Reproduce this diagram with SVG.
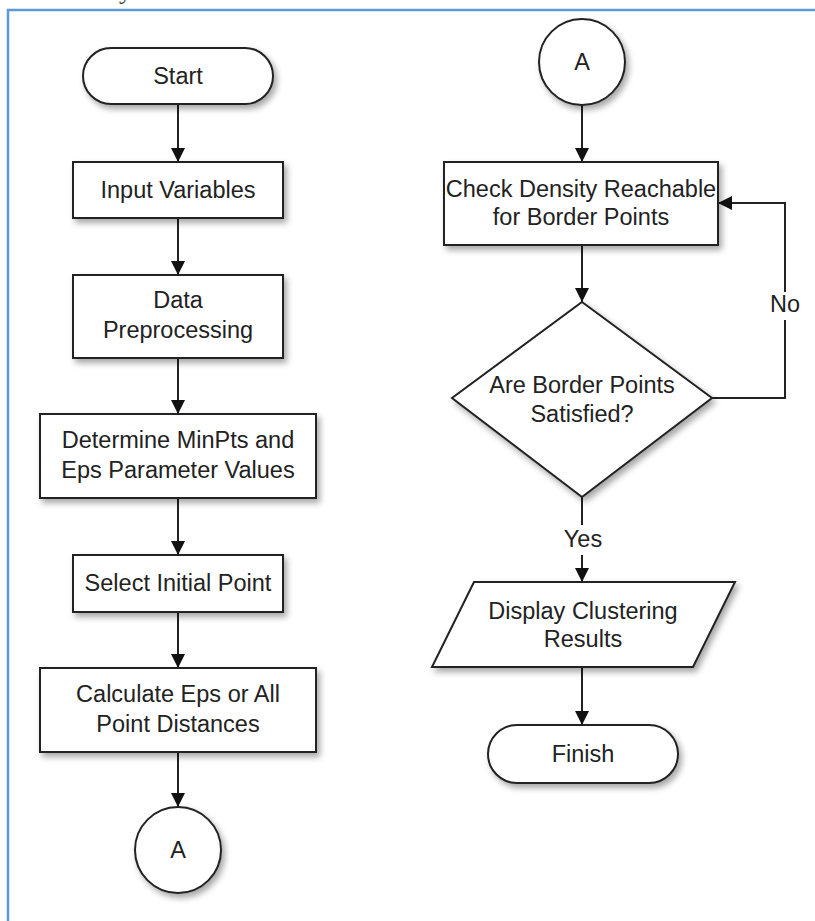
<svg xmlns="http://www.w3.org/2000/svg" width="815" height="921" viewBox="0 0 815 921">
<defs>
<style>
.shape{fill:#fff;stroke:#222;stroke-width:2;filter:url(#sh)}
.lbl{font-family:"Liberation Sans",Arial,sans-serif;font-size:23.5px;fill:#222;text-anchor:middle}
.edge{fill:none;stroke:#222;stroke-width:2}
.arr{marker-end:url(#ah)}
</style>
<filter id="sh" x="-20%" y="-20%" width="150%" height="150%">
<feDropShadow dx="3" dy="4" stdDeviation="3" flood-color="#000" flood-opacity="0.35"/>
</filter>
<marker id="ah" viewBox="0 0 14 14" refX="14" refY="7" markerWidth="14" markerHeight="14" markerUnits="userSpaceOnUse" orient="auto">
<path d="M0,0 L14,7 L0,14 z" fill="#111"/>
</marker>
</defs>
<rect width="815" height="921" fill="#fff"/>
<text x="10" y="-1" font-family="Liberation Serif,serif" font-size="26" fill="#444">based analytical data board</text>
<path d="M8,921 V10 H815" fill="none" stroke="#5b9bd5" stroke-width="2.5"/>

<g id="connectors">
<path class="edge arr" d="M178,104 V162"/>
<path class="edge arr" d="M178,218 V275"/>
<path class="edge arr" d="M178,358 V414"/>
<path class="edge arr" d="M178,498 V555"/>
<path class="edge arr" d="M178,612 V668"/>
<path class="edge arr" d="M178,752 V807"/>
<path class="edge arr" d="M582,105 V162"/>
<path class="edge arr" d="M582,245 V302"/>
<path class="edge" d="M712,398 H785 V320"/>
<path class="edge arr" d="M785,292 V203 H718"/>
<text class="lbl" x="785" y="312">No</text>
<path class="edge" d="M582,497 V525"/>
<text class="lbl" x="583" y="547">Yes</text>
<path class="edge arr" d="M582,555 V582"/>
<path class="edge arr" d="M582,667 V725"/>
</g>

<g id="start"><rect class="shape" x="83" y="48" width="190" height="56" rx="28"/><text class="lbl" x="178" y="84">Start</text></g>
<g id="input"><rect class="shape" x="73" y="162" width="210" height="56"/><text class="lbl" x="178" y="198">Input Variables</text></g>
<g id="prep"><rect class="shape" x="73" y="275" width="210" height="83"/><text class="lbl" x="178" y="308">Data</text><text class="lbl" x="178" y="338">Preprocessing</text></g>
<g id="determine"><rect class="shape" x="40" y="414" width="276" height="84"/><text class="lbl" x="178" y="448">Determine MinPts and</text><text class="lbl" x="178" y="478">Eps Parameter Values</text></g>
<g id="select"><rect class="shape" x="73" y="555" width="210" height="57"/><text class="lbl" x="178" y="591">Select Initial Point</text></g>
<g id="calc"><rect class="shape" x="40" y="668" width="276" height="84"/><text class="lbl" x="178" y="702">Calculate Eps or All</text><text class="lbl" x="178" y="732">Point Distances</text></g>
<g id="connA1"><circle class="shape" cx="178" cy="850" r="43"/><text class="lbl" x="178" y="858">A</text></g>

<g id="connA2"><circle class="shape" cx="582" cy="62" r="43"/><text class="lbl" x="582" y="70">A</text></g>
<g id="check"><rect class="shape" x="444" y="162" width="274" height="83"/><text class="lbl" x="581" y="197">Check Density Reachable</text><text class="lbl" x="581" y="225">for Border Points</text></g>
<g id="decision"><polygon class="shape" points="582,302 712,398 582,497 452,398"/><text class="lbl" x="582" y="393">Are Border Points</text><text class="lbl" x="582" y="422">Satisfied?</text></g>
<g id="display"><polygon class="shape" points="474,582 735,582 693,667 432,667"/><text class="lbl" x="583" y="619">Display Clustering</text><text class="lbl" x="583" y="647">Results</text></g>
<g id="finish"><rect class="shape" x="488" y="725" width="190" height="58" rx="29"/><text class="lbl" x="583" y="762">Finish</text></g>
</svg>
